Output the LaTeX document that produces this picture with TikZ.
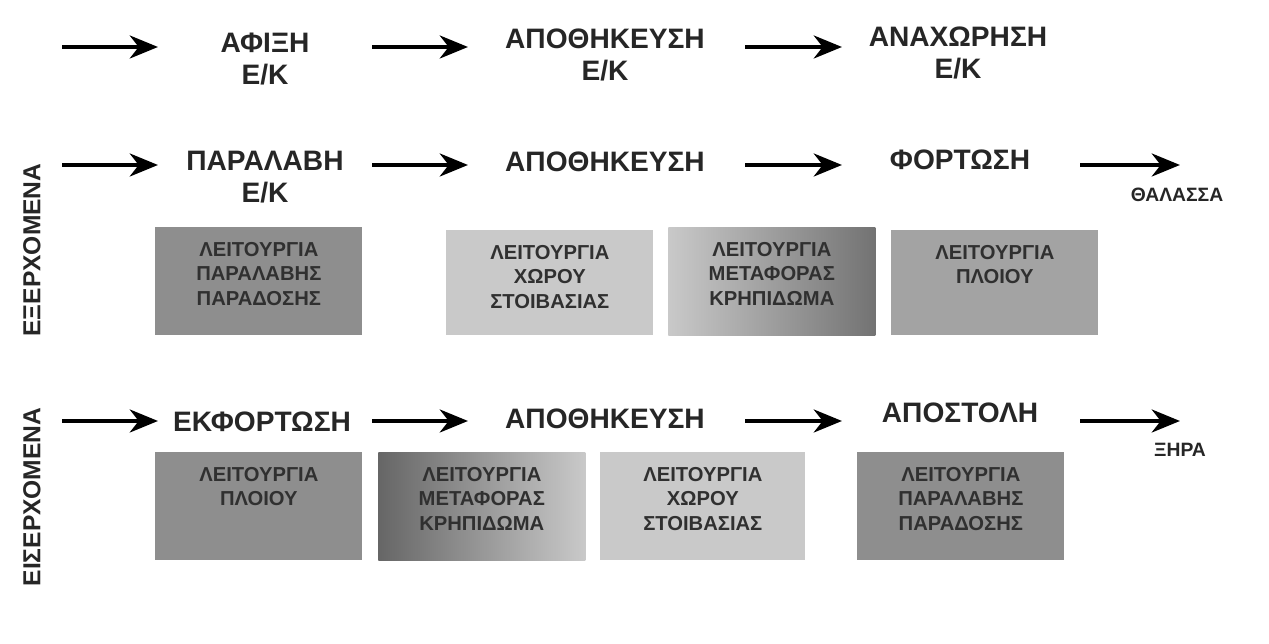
\documentclass[tikz,border=0pt]{standalone}
\usepackage{fontspec}
\setmainfont{Liberation Sans}
\usetikzlibrary{arrows.meta}
\definecolor{dg}{HTML}{8E8E8E}
\definecolor{lg}{HTML}{C9C9C9}
\definecolor{mg}{HTML}{A3A3A3}
\definecolor{tx}{HTML}{303030}
\tikzset{
 arr/.style={line width=2.6pt,-{Stealth[length=16pt,width=13pt,inset=5pt]}},
 ttl/.style={font=\fontsize{16}{18}\selectfont\bfseries,align=center,text=black!85},
 sm/.style={font=\fontsize{11}{12}\selectfont\bfseries,text=black!85},
 bx/.style={minimum width=4.14cm,minimum height=2.16cm,inner sep=0pt,align=center,text=tx,font=\fontsize{11.5}{14}\selectfont\bfseries,anchor=north west},
 side/.style={rotate=90,font=\fontsize{14}{16}\selectfont\bfseries,text=black!85}
}
\begin{document}
\begin{tikzpicture}[x=0.02cm,y=-0.02cm]
\useasboundingbox (0,0) rectangle (1269,644);
% row 1
\foreach \n/\a/\b/\y in {a1/62/158/47,a2/372/468/47,a3/745/842/47,
 b1/62/158/165,b2/372/468/165,b3/745/842/165,b4/1080/1180/165,
 c1/62/158/421,c2/372/468/421,c3/745/842/421,c4/1080/1180/421}{
 \coordinate (\n s) at (\a,\y); \coordinate (\n e) at (\b,\y);
 \draw[arr] (\n s) -- (\n e);}
\node[ttl] (t1) at (265,59) {ΑΦΙΞΗ\\Ε/Κ};
\node[ttl] (t2) at (605,55) {ΑΠΟΘΗΚΕΥΣΗ\\Ε/Κ};
\node[ttl] (t3) at (958,53) {ΑΝΑΧΩΡΗΣΗ\\Ε/Κ};
\node[ttl] (u1) at (265,177) {ΠΑΡΑΛΑΒΗ\\Ε/Κ};
\node[ttl] (u2) at (605,162) {ΑΠΟΘΗΚΕΥΣΗ};
\node[ttl] (u3) at (960,160) {ΦΟΡΤΩΣΗ};
\node[sm] (u4) at (1177,195) {ΘΑΛΑΣΣΑ};
\node[ttl] (v1) at (262,422) {ΕΚΦΟΡΤΩΣΗ};
\node[ttl] (v2) at (605,419) {ΑΠΟΘΗΚΕΥΣΗ};
\node[ttl] (v3) at (960,413) {ΑΠΟΣΤΟΛΗ};
\node[sm] (v4) at (1180,450) {ΞΗΡΑ};
\node[side] (s1) at (32,250) {ΕΞΕΡΧΟΜΕΝΑ};
\node[side] (s2) at (32,497) {ΕΙΣΕΡΧΟΜΕΝΑ};
% boxes
\node[bx,fill=dg] (p1) at (155,227) {\raisebox{0pt}[0pt][0pt]{}\\[-0.2cm]};
\node[bx,fill=dg,minimum height=2.16cm] (p1) at (155,227) {};
\node[anchor=north,align=center,font=\fontsize{11.5}{14}\selectfont\bfseries,text=tx] (p1t) at (p1.north) [yshift=-5pt] {ΛΕΙΤΟΥΡΓΙΑ\\ΠΑΡΑΛΑΒΗΣ\\ΠΑΡΑΔΟΣΗΣ};
\node[bx,fill=lg,minimum height=2.1cm] (p2) at (446,230) {};
\node[anchor=north,align=center,font=\fontsize{11.5}{14}\selectfont\bfseries,text=tx] (p2t) at (p2.north) [yshift=-5pt] {ΛΕΙΤΟΥΡΓΙΑ\\ΧΩΡΟΥ\\ΣΤΟΙΒΑΣΙΑΣ};
\node[bx,left color=lg,right color=black!55,minimum height=2.16cm] (p3) at (668,227) {};
\node[anchor=north,align=center,font=\fontsize{11.5}{14}\selectfont\bfseries,text=tx] (p3t) at (p3.north) [yshift=-5pt] {ΛΕΙΤΟΥΡΓΙΑ\\ΜΕΤΑΦΟΡΑΣ\\ΚΡΗΠΙΔΩΜΑ};
\node[bx,fill=mg,minimum height=2.1cm] (p4) at (891,230) {};
\node[anchor=north,align=center,font=\fontsize{11.5}{14}\selectfont\bfseries,text=tx] (p4t) at (p4.north) [yshift=-5pt] {ΛΕΙΤΟΥΡΓΙΑ\\ΠΛΟΙΟΥ};
\node[bx,fill=dg] (q1) at (155,452) {};
\node[anchor=north,align=center,font=\fontsize{11.5}{14}\selectfont\bfseries,text=tx] (q1t) at (q1.north) [yshift=-5pt] {ΛΕΙΤΟΥΡΓΙΑ\\ΠΛΟΙΟΥ};
\node[bx,left color=black!60,right color=lg] (q2) at (378,452) {};
\node[anchor=north,align=center,font=\fontsize{11.5}{14}\selectfont\bfseries,text=tx] (q2t) at (q2.north) [yshift=-5pt] {ΛΕΙΤΟΥΡΓΙΑ\\ΜΕΤΑΦΟΡΑΣ\\ΚΡΗΠΙΔΩΜΑ};
\node[bx,fill=lg,minimum width=4.1cm] (q3) at (600,452) {};
\node[anchor=north,align=center,font=\fontsize{11.5}{14}\selectfont\bfseries,text=tx] (q3t) at (q3.north) [yshift=-5pt] {ΛΕΙΤΟΥΡΓΙΑ\\ΧΩΡΟΥ\\ΣΤΟΙΒΑΣΙΑΣ};
\node[bx,fill=dg] (q4) at (857,452) {};
\node[anchor=north,align=center,font=\fontsize{11.5}{14}\selectfont\bfseries,text=tx] (q4t) at (q4.north) [yshift=-5pt] {ΛΕΙΤΟΥΡΓΙΑ\\ΠΑΡΑΛΑΒΗΣ\\ΠΑΡΑΔΟΣΗΣ};
\end{tikzpicture}
\end{document}
